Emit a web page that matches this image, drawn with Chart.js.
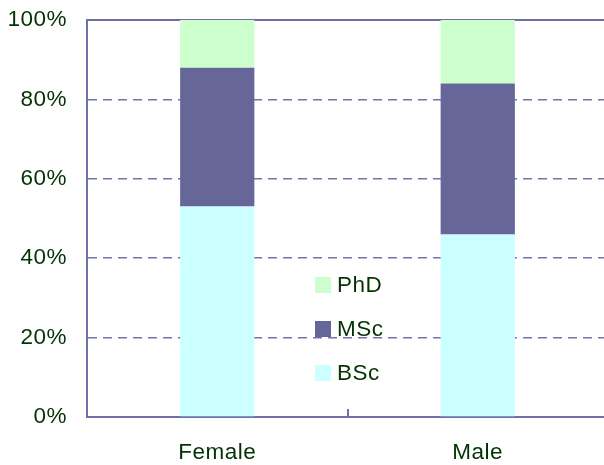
<!DOCTYPE html>
<html>
<head>
<meta charset="utf-8">
<script src="https://cdn.jsdelivr.net/npm/chart.js@4/dist/chart.umd.min.js"></script>
<style>
  html, body { margin: 0; padding: 0; background: #ffffff; overflow: hidden; }
  #wrap { width: 612px; height: 465px; }
</style>
</head>
<body>
<div id="wrap"><canvas id="chart" width="612" height="465"></canvas></div>
<script>
// Degree level shares by gender (percent of each group)
const categories = ['Female', 'Male'];
const bscValues = [53, 46];
const mscValues = [35, 38];
const phdValues = [12, 16];
const yTicks = [0, 20, 40, 60, 80, 100];

const textColor = '#033303';
const axisColor = '#7070a8';
const gridColor = '#7474aa';
const fontFamily = '"Liberation Sans", Arial, sans-serif';

// Solid top line, inner category ticks and the in-plot legend
const decorations = {
  id: 'decorations',
  beforeDraw(chart) {
    chart.ctx.letterSpacing = '0.5px';
  },
  beforeDatasetsDraw(chart) {
    const { ctx, chartArea, scales } = chart;
    const y = scales.y;
    ctx.save();
    ctx.strokeStyle = axisColor;
    ctx.lineWidth = 2;
    const top = y.getPixelForValue(100);
    ctx.beginPath();
    ctx.moveTo(chartArea.left, top);
    ctx.lineTo(chartArea.right, top);
    ctx.stroke();
    ctx.restore();
  },
  afterDraw(chart) {
    const { ctx, chartArea, scales } = chart;
    const x = scales.x;
    ctx.save();
    ctx.strokeStyle = axisColor;
    ctx.lineWidth = 2;
    for (let i = 0; i < categories.length - 1; i++) {
      const bx = Math.round((x.getPixelForValue(i) + x.getPixelForValue(i + 1)) / 2);
      ctx.beginPath();
      ctx.moveTo(bx, chartArea.bottom);
      ctx.lineTo(bx, chartArea.bottom - 8);
      ctx.stroke();
    }
    // legend, top item = last dataset
    const items = chart.data.datasets.slice().reverse();
    const lx = 315, ly0 = 285, step = 44;
    ctx.font = '22.5px ' + fontFamily;
    ctx.textBaseline = 'middle';
    ctx.textAlign = 'left';
    items.forEach((ds, i) => {
      const cy = ly0 + i * step;
      ctx.fillStyle = ds.backgroundColor;
      ctx.fillRect(lx, cy - 8, 16, 16);
      ctx.fillStyle = textColor;
      ctx.fillText(ds.label, lx + 22, cy + 1);
    });
    ctx.restore();
  }
};

new Chart(document.getElementById('chart'), {
  type: 'bar',
  data: {
    labels: categories,
    datasets: [
      { label: 'BSc', data: bscValues, backgroundColor: '#ccffff' },
      { label: 'MSc', data: mscValues, backgroundColor: '#666699' },
      { label: 'PhD', data: phdValues, backgroundColor: '#ccffcc' }
    ]
  },
  options: {
    responsive: false,
    animation: false,
    devicePixelRatio: 1,
    layout: { padding: { top: 20, right: 4, bottom: 0, left: 0 } },
    datasets: { bar: { categoryPercentage: 1, barPercentage: 0.285, borderWidth: 0 } },
    plugins: { legend: { display: false }, tooltip: { enabled: false } },
    scales: {
      x: {
        stacked: true,
        grid: { display: false },
        border: { display: true, color: axisColor, width: 2 },
        ticks: {
          color: textColor,
          padding: 14,
          font: { family: fontFamily, size: 22.5 }
        },
        afterFit(scale) {
          scale.height = 48;
          scale.paddingLeft = 0;
          scale.paddingRight = 0;
        }
      },
      y: {
        stacked: true,
        min: 0,
        max: 100,
        afterBuildTicks(scale) { scale.ticks = yTicks.map(v => ({ value: v })); },
        grid: { color: gridColor, lineWidth: 1.5, drawTicks: false },
        border: { display: true, color: axisColor, width: 2, dash: [9, 6] },
        ticks: {
          color: textColor,
          padding: 20,
          font: { family: fontFamily, size: 22.5 },
          callback: v => v + '%'
        },
        afterFit(scale) {
          scale.width = 87;
          scale.paddingTop = 0;
          scale.paddingBottom = 0;
        }
      }
    }
  },
  plugins: [decorations]
});
</script>
</body>
</html>
